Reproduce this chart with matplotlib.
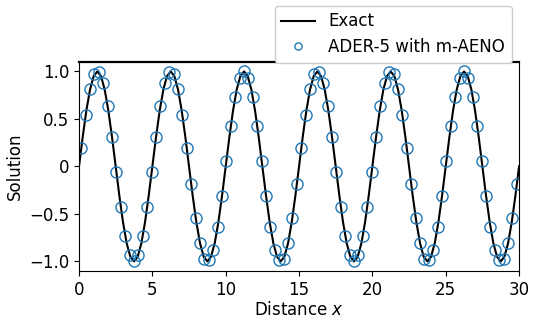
import numpy as np
import matplotlib
matplotlib.use("Agg")
import matplotlib.pyplot as plt

x_exact_start, x_exact_step = 0.0, 0.25
exact_period = [0.0, 0.309, 0.588, 0.809, 0.951, 1.0, 0.951, 0.809, 0.588, 0.309,
                0.0, -0.309, -0.588, -0.809, -0.951, -1.0, -0.951, -0.809, -0.588, -0.309]
exact_vals = exact_period * 6 + [0.0]

# Numerical solution at cell centres (dx = 0.3)
x_num_start, x_num_step = 0.15, 0.3
num_half = [0.19, 0.54, 0.81, 0.97, 0.99, 0.88, 0.64, 0.31, -0.06, -0.43,
            -0.73, -0.93, -1.00, -0.93, -0.73, -0.43, -0.06, 0.31, 0.64, 0.88,
            0.99, 0.97, 0.81, 0.54, 0.19, -0.19, -0.54, -0.81, -0.97, -0.99,
            -0.88, -0.64, -0.31, 0.06, 0.43, 0.73, 0.93, 1.00, 0.93, 0.73,
            0.43, 0.06, -0.31, -0.64, -0.88, -0.99, -0.97, -0.81, -0.54, -0.19]
num_vals = num_half * 2

x_exact = x_exact_start + x_exact_step * np.arange(len(exact_vals))
x_num = x_num_start + x_num_step * np.arange(len(num_vals))

plt.rcParams['font.family'] = ['DejaVu Sans']
fig = plt.figure(figsize=(5.39, 3.21), dpi=100)
ax = fig.add_axes([0.1466, 0.156, 0.8164, 0.651])

ax.plot(x_exact, exact_vals, color='black', lw=1.5, label='Exact')
ax.plot(x_num, num_vals, 'o', mfc='none', mec='#1f77b4', ms=8, mew=1.0,
        label='ADER-5 with m-AENO')

ax.set_xlim(0, 30)
ax.set_ylim(-1.1, 1.1)
ax.set_xticks([0, 5, 10, 15, 20, 25, 30])
ax.set_yticks([-1.0, -0.5, 0, 0.5, 1.0])
ax.set_yticklabels(['\u22121.0', '\u22120.5', '0', '0.5', '1.0'])
ax.tick_params(labelsize=12)
ax.set_xlabel('Distance $x$', fontsize=12, labelpad=2)
ax.set_ylabel('Solution', fontsize=12, labelpad=4)
ax.spines['top'].set_linewidth(1.6)

fig.legend(loc='upper right', bbox_to_anchor=(0.949, 0.982), fontsize=12,
           markerscale=0.65, framealpha=1.0, borderaxespad=0.0,
           labelspacing=0.45)

fig.savefig('out.png', dpi=100)
